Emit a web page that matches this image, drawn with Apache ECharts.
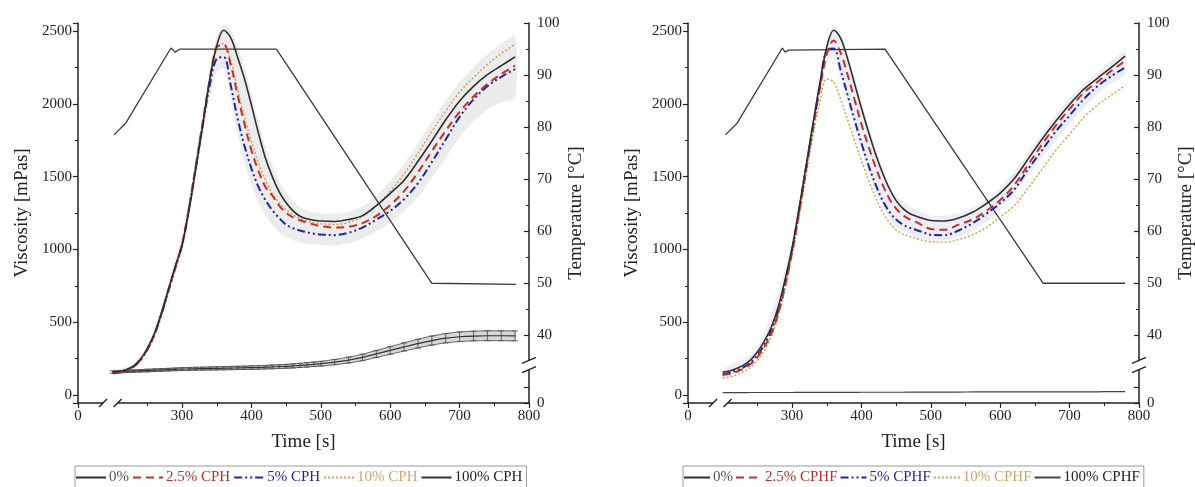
<!DOCTYPE html>
<html>
<head>
<meta charset="utf-8">
<script src="https://cdn.jsdelivr.net/npm/echarts@6/dist/echarts.min.js"></script>
<style>
  html, body { margin: 0; padding: 0; background: #fff; }
  #chart { width: 1195px; height: 487px; }
</style>
</head>
<body>
<div id="chart"></div>
<script>
// Time grid [s] shared by all viscosity curves
const time = [200,210,220,230,240,250,260,270,280,290,
              300,310,320,330,340,350,360,370,380,390,
              400,410,420,430,440,450,460,470,480,490,
              500,520,540,560,580,600,620,640,660,680,
              700,720,740,760,780];

// ---- CPH blends (left panel), viscosity [mPas] ----
const cph0L = [158,163,175,198,245,320,420,560,720,880,
               1030,1270,1560,1860,2170,2400,2505,2455,2320,2170,
               1990,1800,1630,1500,1395,1320,1265,1228,1210,1200,
               1195,1192,1205,1232,1300,1385,1475,1605,1745,1890,
               2020,2120,2200,2262,2322];
const cph25L = [152,158,172,196,242,315,415,555,715,875,
                1035,1285,1580,1880,2170,2390,2405,2270,2060,1860,
                1680,1540,1430,1370,1300,1250,1220,1200,1185,1170,
                1160,1150,1155,1180,1230,1305,1400,1530,1675,1815,
                1945,2050,2135,2205,2262];
const cph5L = [150,156,170,194,240,312,412,550,710,870,
               1030,1280,1570,1860,2130,2310,2320,2130,1900,1710,
               1555,1430,1340,1270,1215,1170,1145,1130,1118,1108,
               1102,1098,1115,1150,1205,1265,1345,1455,1600,1755,
               1910,2030,2120,2185,2238];
const cph10L = [154,160,174,198,244,318,418,558,718,878,
                1038,1290,1585,1885,2165,2375,2415,2300,2100,1910,
                1740,1595,1475,1385,1320,1272,1238,1212,1195,1183,
                1176,1172,1185,1225,1300,1400,1520,1660,1810,1950,
                2080,2180,2270,2345,2410];
const cph100L = [158,160,162,164,166,168,170,172,174,176,
                 178,179,180,181,182,183,184,185,186,187,
                 188,189,191,193,195,197,200,203,207,211,
                 215,226,240,258,282,306,330,353,374,390,
                 400,405,407,407,406];
const cph100ErrL = [8,8,8,8,8,9,9,9,9,9,
                    10,10,10,10,10,11,11,11,11,11,
                    12,12,12,13,13,13,14,14,15,15,
                    16,18,20,22,24,26,28,30,31,32,
                    33,33,34,34,34];
// spread of the replicate measurements (left panel)
const spreadLowL = [140,145,155,175,215,280,375,505,660,815,
                    970,1210,1490,1780,2040,2220,2240,2040,1790,1590,
                    1440,1320,1235,1170,1120,1085,1062,1048,1040,1034,
                    1030,1028,1042,1075,1125,1185,1260,1360,1490,1630,
                    1770,1880,1960,2010,2040];
const spreadHighL = [172,178,192,220,270,350,455,600,765,930,
                     1095,1350,1650,1950,2240,2460,2545,2510,2400,2250,
                     2070,1880,1710,1580,1470,1390,1330,1290,1268,1255,
                     1248,1245,1258,1295,1370,1470,1590,1730,1880,2020,
                     2150,2250,2340,2410,2465];

// ---- CPHF blends (right panel), viscosity [mPas] ----
const cph0R = [158,165,182,205,240,295,370,465,605,795,
               1010,1280,1570,1860,2140,2390,2505,2450,2310,2140,
               1970,1810,1660,1530,1420,1335,1280,1245,1226,1210,
               1198,1195,1215,1255,1315,1387,1485,1620,1755,1880,
               1995,2098,2175,2250,2328];
const cph25R = [137,145,160,180,212,260,330,420,560,750,
                980,1250,1540,1830,2100,2340,2435,2350,2200,2030,
                1860,1710,1570,1450,1350,1280,1235,1205,1185,1160,
                1140,1135,1170,1205,1265,1339,1440,1580,1720,1850,
                1965,2075,2150,2225,2295];
const cph5R = [145,152,168,190,222,272,345,440,580,770,
               1000,1270,1560,1840,2120,2370,2380,2230,2060,1890,
               1730,1580,1450,1340,1260,1205,1170,1148,1132,1115,
               1100,1098,1130,1180,1245,1318,1410,1550,1680,1810,
               1920,2030,2120,2190,2250];
const cph10R = [117,124,138,158,190,238,305,400,540,730,
                960,1220,1500,1780,2010,2170,2150,2030,1890,1750,
                1610,1480,1360,1260,1185,1135,1105,1088,1074,1060,
                1052,1050,1068,1100,1150,1223,1300,1420,1550,1680,
                1790,1905,1990,2060,2125];
const cph100R = [16,16,16,16,17,17,17,17,17,17,
                 17,18,18,18,18,18,18,18,18,18,
                 19,19,19,19,19,19,19,20,20,20,
                 20,20,20,21,21,21,21,21,22,22,
                 22,22,22,23,23];
const spreadTimeR = [200,250,300,330,350,360,370,390,420,450,500,550,600,650,700,750,780];
const spreadLowR  = [115,240,950,1790,2300,2320,2170,1840,1400,1160,1060,1100,1270,1570,1860,2110,2205];
const spreadHighR = [175,320,1050,1900,2420,2540,2490,2180,1700,1370,1232,1265,1420,1730,2040,2255,2360];

// ---- Temperature profile [°C] ----
const tempTimeL = [202,219,284,290,297,436,660,781];
const tempValL  = [78.5,80.8,95.2,94.4,95.0,95.0,50.0,49.8];
const tempTimeR = [204,221,286,290,295,434,662,780];
const tempValR  = [78.5,80.8,95.2,94.4,94.8,95.0,50.0,50.0];

// ---- Axis ranges and labels ----
const timeMin = 150, timeMax = 800;
const viscMin = -55, viscMax = 2555;
const tempMin = 27, tempMax = 100;
const namesL = ['0%', '2.5% CPH', '5% CPH', '10% CPH', '100% CPH'];
const namesR = ['0%', '2.5% CPHF', '5% CPHF', '10% CPHF', '100% CPHF'];

const FONT = "'Liberation Serif','DejaVu Serif',serif";
const INK = '#222';
const C_BLACK = '#2e2e2e', C_RED = '#c0302c', C_BLUE = '#1f279c', C_ORANGE = '#d49a4c';
const legendText = ['#555', '#b3302c', '#26269a', '#d3a469', '#222'];

const pairs = (ts, vs) => ts.map((t, i) => [t, vs[i]]);

function xAxisDef(gridIndex) {
  return {
    type: 'value', gridIndex, min: timeMin, max: timeMax,
    name: 'Time [s]', nameLocation: 'middle', nameGap: 30,
    nameTextStyle: { fontFamily: FONT, fontSize: 19, color: INK },
    axisLine: { show: true, onZero: false, lineStyle: { color: INK, width: 1.5 } },
    axisTick: { show: true, length: 5, lineStyle: { color: INK, width: 1.2 } },
    minorTick: { show: true, splitNumber: 2, length: 3, lineStyle: { color: INK, width: 1 } },
    axisLabel: { fontFamily: FONT, fontSize: 15, color: INK, margin: 6,
      formatter: v => (Math.abs(v - timeMin) < 1e-6 ? '0' : (v >= 300 ? String(v) : '')) },
    splitLine: { show: false }, minorSplitLine: { show: false }
  };
}
function viscAxisDef(gridIndex) {
  return {
    type: 'value', gridIndex, min: viscMin, max: viscMax, position: 'left',
    name: 'Viscosity [mPas]', nameLocation: 'middle', nameGap: 46, nameRotate: 90,
    nameTextStyle: { fontFamily: FONT, fontSize: 19, color: INK },
    axisLine: { show: true, onZero: false, lineStyle: { color: INK, width: 1.5 } },
    axisTick: { show: true, length: 5, lineStyle: { color: INK, width: 1.2 } },
    minorTick: { show: true, splitNumber: 2, length: 3, lineStyle: { color: INK, width: 1 } },
    axisLabel: { fontFamily: FONT, fontSize: 15, color: INK, margin: 6,
      formatter: v => (v < 0 || v > 2500 ? '' : String(v)) },
    splitLine: { show: false }, minorSplitLine: { show: false }
  };
}
function tempAxisDef(gridIndex) {
  return {
    type: 'value', gridIndex, min: tempMin, max: tempMax, position: 'right',
    name: 'Temperature [°C]', nameLocation: 'middle', nameGap: 38, nameRotate: 90,
    nameTextStyle: { fontFamily: FONT, fontSize: 19, color: INK },
    axisLine: { show: true, onZero: false, lineStyle: { color: INK, width: 1.5 } },
    axisTick: { show: true, inside: true, length: 5, lineStyle: { color: INK, width: 1.2 } },
    minorTick: { show: true, splitNumber: 2, length: 3, lineStyle: { color: INK, width: 1 } },
    axisLabel: { fontFamily: FONT, fontSize: 15, color: INK, margin: 8,
      formatter: v => (v === tempMin ? '0' : (v === 30 ? '' : String(v))) },
    splitLine: { show: false }, minorSplitLine: { show: false }
  };
}

function curve(name, xi, yi, vals, color, type, width, z) {
  return {
    type: 'line', name, xAxisIndex: xi, yAxisIndex: yi, data: pairs(time, vals),
    symbol: 'none', smooth: 0.35, z, silent: true,
    lineStyle: { color, width, type }, itemStyle: { color }
  };
}
function spreadSeries(xi, yi, ts, lo, hi, fill) {
  const data = ts.map((t, i) => [t, lo[i], hi[i]]);
  return {
    type: 'custom', name: 'spread', xAxisIndex: xi, yAxisIndex: yi, silent: true, z: 1,
    data, encode: { x: 0, y: [1, 2] },
    renderItem(params, api) {
      if (params.dataIndex !== 0) return null;
      const top = data.map(d => api.coord([d[0], d[2]]));
      const bot = data.map(d => api.coord([d[0], d[1]])).reverse();
      return { type: 'polygon', shape: { points: top.concat(bot), smooth: 0.25 },
               style: { fill, stroke: null } };
    }
  };
}
// 100 % sample: shaded standard-deviation band with a vertical error bar at each reading
function errorBars(name, xi, yi, vals, errs) {
  const data = time.map((t, i) => [t, vals[i] - errs[i], vals[i] + errs[i]]);
  return {
    type: 'custom', name, xAxisIndex: xi, yAxisIndex: yi, silent: true, z: 2,
    data, encode: { x: 0, y: [1, 2] },
    renderItem(params, api) {
      const t = api.value(0);
      const lo = api.coord([t, api.value(1)]);
      const hi = api.coord([t, api.value(2)]);
      const st = { stroke: '#555', lineWidth: 0.9 };
      const children = [
        { type: 'line', shape: { x1: lo[0], y1: lo[1], x2: hi[0], y2: hi[1] }, style: st },
        { type: 'line', shape: { x1: lo[0] - 3, y1: lo[1], x2: lo[0] + 3, y2: lo[1] }, style: st },
        { type: 'line', shape: { x1: hi[0] - 3, y1: hi[1], x2: hi[0] + 3, y2: hi[1] }, style: st }
      ];
      if (params.dataIndex === 0) {
        const top = data.map(d => api.coord([d[0], d[2]]));
        const bot = data.map(d => api.coord([d[0], d[1]]));
        children.unshift(
          { type: 'polygon', shape: { points: top.concat(bot.slice().reverse()), smooth: 0.25 },
            style: { fill: 'rgba(110,110,110,0.28)', stroke: null } },
          { type: 'polyline', shape: { points: top, smooth: 0.25 }, style: { stroke: '#555', lineWidth: 0.9, fill: null } },
          { type: 'polyline', shape: { points: bot, smooth: 0.25 }, style: { stroke: '#555', lineWidth: 0.9, fill: null } }
        );
      }
      return { type: 'group', children };
    }
  };
}
function tempLine(xi, yi, ts, vs) {
  return {
    type: 'line', name: 'Temperature', xAxisIndex: xi, yAxisIndex: yi, data: pairs(ts, vs),
    symbol: 'none', z: 3, silent: true, lineStyle: { color: '#3a3a3a', width: 1.3 }
  };
}
function legendDef(left, names, iconW, gap) {
  return {
    left, top: 466, orient: 'horizontal', itemWidth: iconW, itemHeight: 12, itemGap: gap,
    padding: [4, 4, 8, 0], borderColor: '#999', borderWidth: 1, selectedMode: false,
    itemStyle: { opacity: 0, borderWidth: 0 },
    textStyle: { fontFamily: FONT, fontSize: 15, padding: [0, 0, 0, -2] },
    data: names.map((n, i) => ({ name: n, textStyle: { color: legendText[i] } }))
  };
}

const chart = echarts.init(document.getElementById('chart'), null, { renderer: 'canvas' });
chart.setOption({
  animation: false,
  backgroundColor: '#fff',
  grid: [
    { left: 78, top: 23, width: 451, height: 380, outerBoundsMode: 'none' },
    { left: 688, top: 23, width: 451, height: 380, outerBoundsMode: 'none' }
  ],
  xAxis: [xAxisDef(0), xAxisDef(1)],
  yAxis: [viscAxisDef(0), tempAxisDef(0), viscAxisDef(1), tempAxisDef(1)],
  legend: [legendDef(75, namesL, 30, 3), legendDef(683, namesR, 26, 2)],
  series: [
    // left panel: CPH
    spreadSeries(0, 0, time, spreadLowL, spreadHighL, '#ececec'),
    curve(namesL[4], 0, 0, cph100L, '#333', 'solid', 1.2, 3),
    errorBars(namesL[4], 0, 0, cph100L, cph100ErrL),
    tempLine(0, 1, tempTimeL, tempValL),
    curve(namesL[3], 0, 0, cph10L, C_ORANGE, [2, 2], 1.4, 4),
    curve(namesL[2], 0, 0, cph5L, C_BLUE, [8, 3, 2, 3, 2, 3], 2, 5),
    curve(namesL[1], 0, 0, cph25L, C_RED, [8, 5], 2, 6),
    curve(namesL[0], 0, 0, cph0L, C_BLACK, 'solid', 1.6, 7),
    // right panel: CPHF
    spreadSeries(1, 2, spreadTimeR, spreadLowR, spreadHighR, 'rgba(215,218,232,0.45)'),
    curve(namesR[4], 1, 2, cph100R, '#444', 'solid', 1.2, 3),
    tempLine(1, 3, tempTimeR, tempValR),
    curve(namesR[3], 1, 2, cph10R, C_ORANGE, [2, 2], 1.4, 4),
    curve(namesR[2], 1, 2, cph5R, C_BLUE, [8, 3, 2, 3, 2, 3], 2, 5),
    curve(namesR[1], 1, 2, cph25R, C_RED, [8, 5], 2, 6),
    curve(namesR[0], 1, 2, cph0R, C_BLACK, 'solid', 1.6, 7)
  ]
});

// Axis break marks on the time axis (after 0) and the temperature axis (above 0)
function breakMarks() {
  const els = [];
  const st = { stroke: INK, lineWidth: 1.4 };
  [0, 1].forEach(g => {
    const yAxisPx = chart.convertToPixel({ yAxisIndex: g * 2 }, viscMin);
    const xa = chart.convertToPixel({ xAxisIndex: g }, 186);
    const xb = chart.convertToPixel({ xAxisIndex: g }, 207);
    els.push({ type: 'rect', z: 100, shape: { x: xa, y: yAxisPx - 3, width: xb - xa, height: 10 }, style: { fill: '#fff' } });
    [xa, xb].forEach(x => els.push({ type: 'line', z: 101,
      shape: { x1: x - 4, y1: yAxisPx + 4, x2: x + 4, y2: yAxisPx - 4 }, style: st }));

    const xT = chart.convertToPixel({ xAxisIndex: g }, timeMax);
    const ya = chart.convertToPixel({ yAxisIndex: g * 2 + 1 }, 35.2);
    const yb = chart.convertToPixel({ yAxisIndex: g * 2 + 1 }, 33.4);
    els.push({ type: 'rect', z: 100, shape: { x: xT - 8, y: ya, width: 16, height: yb - ya }, style: { fill: '#fff' } });
    [ya, yb].forEach(y => els.push({ type: 'line', z: 101,
      shape: { x1: xT - 7, y1: y + 3, x2: xT + 7, y2: y - 3 }, style: st }));
  });
  chart.setOption({ graphic: els });
}
breakMarks();
</script>
</body>
</html>
